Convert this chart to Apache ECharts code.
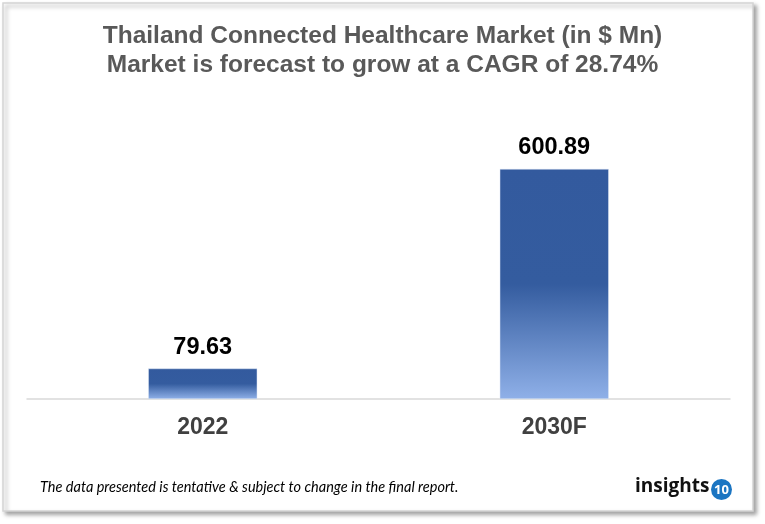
<!DOCTYPE html>
<html>
<head>
<meta charset="utf-8">
<script src="https://cdn.jsdelivr.net/npm/echarts@6/dist/echarts.min.js"></script>
<style>
  html, body { margin: 0; padding: 0; background: #fff; }
  #main { width: 765px; height: 524px; }
</style>
</head>
<body>
<div id="main"></div>
<script>
var years = ['2022', '2030F'];
var marketValues = [79.63, 600.89];
var titleLines = ['Thailand Connected Healthcare Market (in $ Mn)', 'Market is forecast to grow at a CAGR of 28.74%'];
var footnote = 'The data presented is tentative & subject to change in the final report.';

var chart = echarts.init(document.getElementById('main'));

var barColor = {
    type: 'linear', x: 0, y: 0, x2: 0, y2: 1,
    colorStops: [
        { offset: 0, color: '#335a9e' },
        { offset: 0.5, color: '#345c9f' },
        { offset: 1, color: '#8fb0e8' }
    ]
};

var option = {
    backgroundColor: '#fff',
    animation: false,
    title: {
        text: titleLines.join('\n'),
        left: 'center',
        top: 17,
        textStyle: {
            fontFamily: 'Liberation Sans',
            fontSize: 24.5,
            fontWeight: 'bold',
            color: '#595959',
            lineHeight: 29
        }
    },
    grid: { left: 27, right: 35, top: 131, bottom: 125 },
    xAxis: {
        type: 'category',
        data: years,
        axisLine: { lineStyle: { color: '#d9d9d9', width: 1.5 } },
        axisTick: { show: false },
        axisLabel: {
            margin: 17,
            fontFamily: 'Liberation Sans',
            fontSize: 23,
            fontWeight: 'bold',
            color: '#404040'
        }
    },
    yAxis: {
        type: 'value',
        min: 0,
        max: 700,
        show: false
    },
    series: [
        {
            type: 'bar',
            data: marketValues,
            barWidth: 109,
            itemStyle: { color: barColor, borderColor: '#dce6f5', borderWidth: 0.5 },
            label: {
                show: true,
                position: 'top',
                distance: 9,
                formatter: function (p) { return p.value.toFixed(2); },
                fontFamily: 'Liberation Sans',
                fontSize: 23.5,
                fontWeight: 'bold',
                color: '#000'
            }
        }
    ],
    graphic: [
        {
            type: 'rect',
            z: -10,
            shape: { x: 3, y: 3, width: 750, height: 508 },
            style: {
                fill: '#fff',
                stroke: '#d4d4d4',
                lineWidth: 1.5,
                shadowBlur: 4,
                shadowOffsetX: 3,
                shadowOffsetY: 3,
                shadowColor: 'rgba(0,0,0,0.35)'
            }
        },
        {
            type: 'text',
            left: 40,
            top: 480,
            style: {
                text: footnote,
                font: 'italic 14.5px Lato',
                fill: '#000'
            }
        },
        {
            type: 'text',
            left: 635,
            top: 477,
            style: {
                text: 'insights',
                font: 'bold 19px "Open Sans"',
                fill: '#111'
            }
        },
        {
            type: 'circle',
            shape: { cx: 721.5, cy: 489.5, r: 10.5 },
            style: { fill: '#1b75c2' }
        },
        {
            type: 'text',
            x: 721.5,
            y: 490,
            style: {
                text: '10',
                font: 'bold 13px "Open Sans"',
                fill: '#fff',
                align: 'center',
                verticalAlign: 'middle'
            }
        }
    ]
};

chart.setOption(option);
</script>
</body>
</html>
